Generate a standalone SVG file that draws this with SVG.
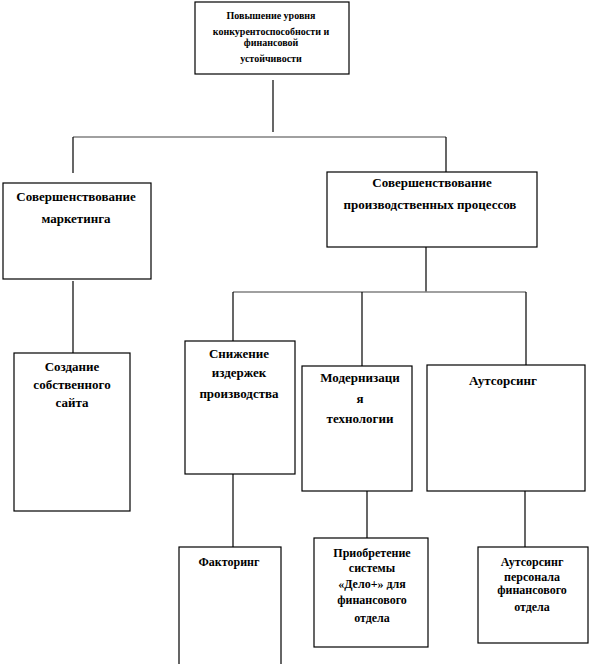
<svg xmlns="http://www.w3.org/2000/svg" width="591" height="664" viewBox="0 0 591 664">
<style>
.box{fill:#fff;stroke:#000;stroke-width:1.2}
.t{font-family:'Liberation Serif','DejaVu Serif','Times New Roman',serif;font-weight:bold;text-anchor:middle;fill:#000}
.s10{font-size:10px}
.s12{font-size:12px}
.s13{font-size:13px}
.c{stroke:#000;stroke-width:1.2;fill:none}
.h{stroke:#808080;stroke-width:1.5;fill:none}
</style>
<rect width="591" height="664" fill="#fff"/>
<g id="connectors">
<line class="c" x1="273" y1="80" x2="273" y2="132"/>
<line class="h" x1="73" y1="137" x2="446" y2="137"/>
<line class="c" x1="73" y1="137" x2="73" y2="173"/>
<line class="c" x1="446" y1="137" x2="446" y2="172"/>
<line class="c" x1="73" y1="281" x2="73" y2="353"/>
<line class="c" x1="426" y1="247" x2="426" y2="292"/>
<line class="h" x1="233" y1="292" x2="526" y2="292"/>
<line class="c" x1="233" y1="292" x2="233" y2="341"/>
<line class="c" x1="362" y1="292" x2="362" y2="366"/>
<line class="c" x1="526" y1="292" x2="526" y2="365"/>
<line class="c" x1="233" y1="474" x2="233" y2="547"/>
<line class="c" x1="367" y1="491" x2="367" y2="538"/>
<line class="c" x1="525" y1="488" x2="525" y2="547"/>
</g>
<g id="n_top">
<rect class="box" x="195" y="2" width="154" height="72"/>
<text class="t s10" x="271" y="19">Повышение уровня</text>
<text class="t s10" x="271" y="35">конкурентоспособности  и</text>
<text class="t s10" x="271" y="46">финансовой</text>
<text class="t s10" x="271" y="62">устойчивости</text>
</g>
<g id="n_marketing">
<rect class="box" x="3" y="183" width="148" height="96"/>
<text class="t s13" x="76" y="201">Совершенствование</text>
<text class="t s13" x="76" y="223">маркетинга</text>
</g>
<g id="n_processes">
<rect class="box" x="327" y="172" width="210" height="75"/>
<text class="t s13" x="432" y="187">Совершенствование</text>
<text class="t s13" x="430" y="209">производственных  процессов</text>
</g>
<g id="n_site">
<rect class="box" x="14" y="353" width="116" height="158"/>
<text class="t s13" x="72" y="371">Создание</text>
<text class="t s13" x="72" y="389">собственного</text>
<text class="t s13" x="72" y="407">сайта</text>
</g>
<g id="n_costs">
<rect class="box" x="185" y="341" width="110" height="133"/>
<text class="t s13" x="239" y="358">Снижение</text>
<text class="t s13" x="239" y="377">издержек</text>
<text class="t s13" x="239" y="398">производства</text>
</g>
<g id="n_modern">
<rect class="box" x="302" y="366" width="110" height="125"/>
<text class="t s13" x="360" y="382">Модернизаци</text>
<text class="t s13" x="360" y="403">я</text>
<text class="t s13" x="360" y="423">технологии</text>
</g>
<g id="n_outsourcing">
<rect class="box" x="427" y="365" width="158" height="126"/>
<text class="t s13" x="503" y="385">Аутсорсинг</text>
</g>
<g id="n_factoring">
<rect class="box" x="179" y="547" width="102" height="120"/>
<text class="t s12" x="229" y="566">Факторинг</text>
</g>
<g id="n_delo">
<rect class="box" x="314" y="538" width="114" height="109"/>
<text class="t s12" x="372" y="557">Приобретение</text>
<text class="t s12" x="372" y="572">системы</text>
<text class="t s12" x="372" y="588">«Дело+» для</text>
<text class="t s12" x="372" y="604">финансового</text>
<text class="t s12" x="372" y="622">отдела</text>
</g>
<g id="n_staff">
<rect class="box" x="478" y="547" width="110" height="96"/>
<text class="t s12" x="532" y="566">Аутсорсинг</text>
<text class="t s12" x="532" y="581">персонала</text>
<text class="t s12" x="532" y="594">финансового</text>
<text class="t s12" x="532" y="611">отдела</text>
</g>
</svg>
